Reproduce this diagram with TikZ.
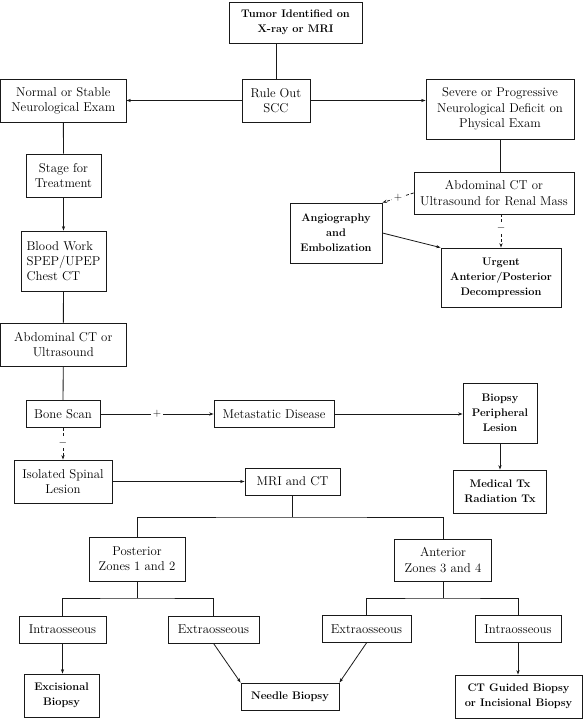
\documentclass[tikz,border=0pt]{standalone}
\usepackage{tikz}
\usetikzlibrary{arrows.meta,positioning}
\definecolor{inkgray}{RGB}{25,25,25}
\tikzstyle{stepbox}=[rectangle,draw=inkgray,line width=0.8pt,inner sep=0pt,align=center,
                  font=\fontsize{12.8}{15.2}\selectfont]
\tikzstyle{keybox}=[stepbox,font=\fontsize{11}{15}\selectfont\bfseries]
\tikzstyle{link}=[line width=0.8pt,draw=inkgray]
\tikzstyle{arrow}=[-{Stealth[length=4.5pt,width=3.2pt]},line width=0.8pt,draw=inkgray]
\tikzstyle{dasharrow}=[arrow,dash pattern=on 3pt off 2pt]
\tikzstyle{sign}=[fill=white,inner sep=1.5pt,font=\fontsize{11}{11}\selectfont]

\begin{document}
\begin{tikzpicture}[x=1pt,y=1pt]
      \useasboundingbox (0,0) rectangle (583,-727);
      \node[keybox,minimum width=133pt,minimum height=41pt] (tumor) at (295.5,-22.5) {Tumor Identified on\\X-ray or MRI};
      \node[stepbox,minimum width=68pt,minimum height=43pt] (ruleout) at (276,-100.5) {Rule Out\\SCC};
      \node[stepbox,minimum width=125.4pt,minimum height=43pt] (normal) at (63.3,-100.5) {Normal or Stable\\Neurological Exam};
      \node[stepbox,minimum width=148pt,minimum height=60pt] (severe) at (500,-109) {Severe or Progressive\\Neurological Deficit on\\Physical Exam};
      \node[stepbox,minimum width=75pt,minimum height=43pt] (stage) at (63.5,-175.5) {Stage for\\Treatment};
      \node[stepbox,minimum width=85pt,minimum height=60pt,align=left] (blood) at (63.5,-261) {Blood Work\\SPEP/UPEP\\Chest CT};
      \node[stepbox,minimum width=125.4pt,minimum height=43pt] (abdo) at (63.3,-344.5) {Abdominal CT or\\Ultrasound};
      \node[stepbox,minimum width=74pt,minimum height=27pt] (bone) at (63,-414) {Bone Scan};
      \node[stepbox,minimum width=120pt,minimum height=27pt] (metas) at (274,-414) {Metastatic Disease};
      \node[keybox,minimum width=74pt,minimum height=60pt] (biopsy) at (500,-413) {Biopsy\\Peripheral\\Lesion};
      \node[keybox,minimum width=93pt,minimum height=43pt] (medical) at (500,-491.5) {Medical Tx\\Radiation Tx};
      \node[stepbox,minimum width=98pt,minimum height=43pt] (isolated) at (63,-481.5) {Isolated Spinal\\Lesion};
      \node[stepbox,minimum width=95pt,minimum height=27pt] (mri) at (292.5,-481.5) {MRI and CT};
      \node[stepbox,minimum width=160pt,minimum height=42pt] (renal) at (494,-193) {Abdominal CT or\\Ultrasound for Renal Mass};
      \node[keybox,minimum width=92pt,minimum height=60pt] (angio) at (336,-233) {Angiography\\and\\Embolization};
      \node[keybox,minimum width=120pt,minimum height=59pt] (urgent) at (501,-277.5) {Urgent\\Anterior/Posterior\\Decompression};
      \node[stepbox,minimum width=96pt,minimum height=44pt] (posterior) at (137,-559) {Posterior\\Zones 1 and 2};
      \node[stepbox,minimum width=97pt,minimum height=42pt] (anterior) at (443,-560) {Anterior\\Zones 3 and 4};
      \node[stepbox,minimum width=87pt,minimum height=27pt] (intraL) at (62.5,-629.5) {Intraosseous};
      \node[stepbox,minimum width=91pt,minimum height=27pt] (extraL) at (213.5,-629.5) {Extraosseous};
      \node[stepbox,minimum width=89pt,minimum height=27pt] (extraR) at (366.5,-629) {Extraosseous};
      \node[stepbox,minimum width=86pt,minimum height=27pt] (intraR) at (518,-629) {Intraosseous};
      \node[keybox,minimum width=75pt,minimum height=43pt] (excisional) at (61.5,-695.5) {Excisional\\Biopsy};
      \node[keybox,minimum width=98pt,minimum height=27pt] (needle) at (290,-696.5) {Needle Biopsy};
      \node[keybox,minimum width=127pt,minimum height=43pt] (ctguided) at (518.5,-696.5) {CT Guided Biopsy\\or Incisional Biopsy};
      \coordinate (fork) at (292.5,-517);
      \coordinate (forkp) at (137,-598);
      \coordinate (forka) at (443,-598);
      \draw[link] (ruleout.north |- tumor.south) -- (ruleout.north);
      \draw[arrow] (ruleout) -- (normal);
      \draw[arrow] (ruleout.east) -- (ruleout.east -| severe.west);
      \draw[link] (normal) -- (stage);
      \draw[arrow] (stage) -- (blood);
      \draw[link] (blood) -- (abdo);
      \draw[link] (abdo) -- (bone);
      \draw[arrow] (bone) -- node[sign]{+} (metas);
      \draw[arrow] (metas.east) -- (metas.east -| biopsy.west);
      \draw[arrow] (biopsy) -- (medical);
      \draw[dasharrow] (bone) -- node[sign,pos=0.47]{$-$} (isolated);
      \draw[arrow] (isolated) -- (mri);
      \draw[link] (severe.south) -- (severe.south |- renal.north);
      \draw[dasharrow] (renal.west) -- node[sign]{+} (angio.north east);
      \draw[dasharrow] (urgent.north |- renal.south) -- node[sign,pos=0.4]{$-$} (urgent.north);
      \draw[arrow] (angio.east) -- (urgent.north west);
      \draw[link] (mri) -- (fork);
      \draw[link] (posterior) |- (fork) -| (anterior);
      \draw[link] (posterior) -- (forkp);
      \draw[link] (intraL) |- (forkp) -| (extraL);
      \draw[link] (anterior) -- (forka);
      \draw[link] (extraR) |- (forka) -| (intraR);
      \draw[arrow] (intraL.south) -- (intraL.south |- excisional.north);
      \draw[arrow] (extraL.south) -- (needle.north west);
      \draw[arrow] (extraR.south) -- (needle.north east);
      \draw[arrow] (intraR.south) -- (intraR.south |- ctguided.north);
    \end{tikzpicture}
\end{document}
